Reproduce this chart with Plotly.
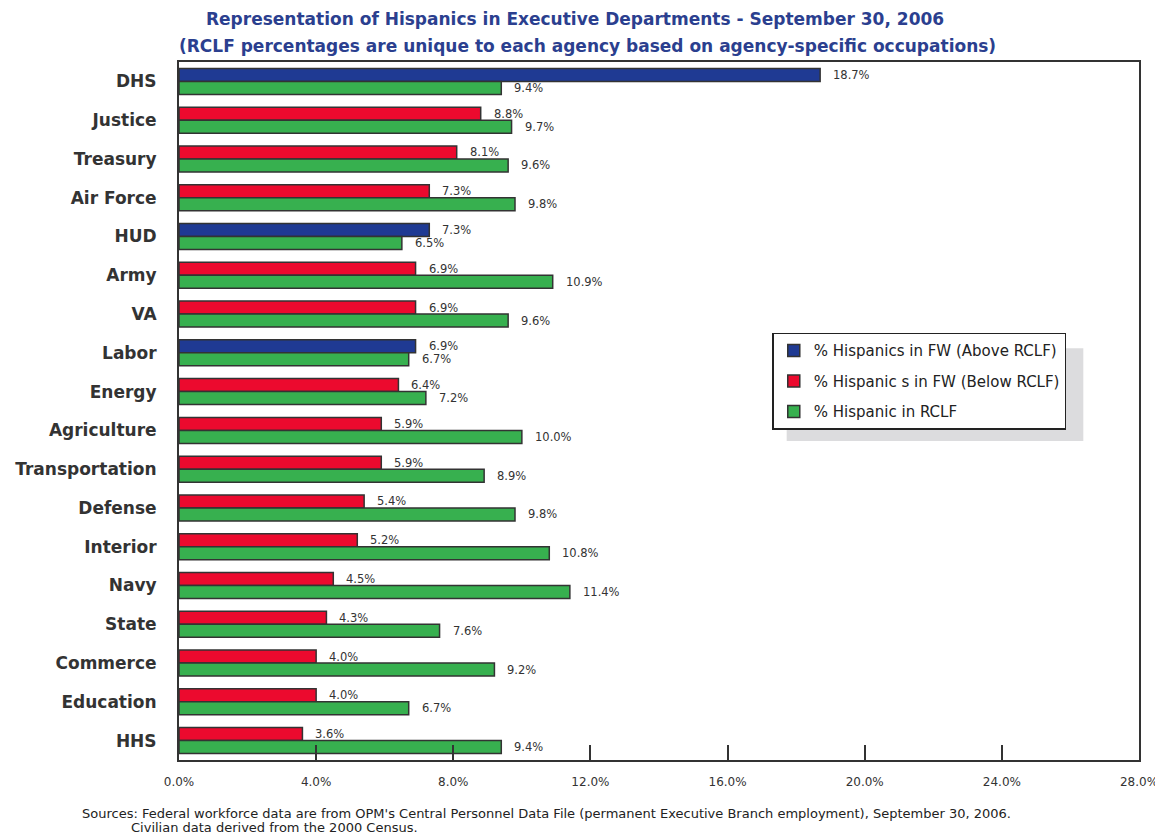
import plotly.graph_objects as go

# ---------------------------- data ----------------------------
agencies = ["DHS", "Justice", "Treasury", "Air Force", "HUD", "Army", "VA", "Labor",
            "Energy", "Agriculture", "Transportation", "Defense", "Interior", "Navy",
            "State", "Commerce", "Education", "HHS"]
fw_pct   = [18.7, 8.8, 8.1, 7.3, 7.3, 6.9, 6.9, 6.9, 6.4, 5.9, 5.9, 5.4, 5.2, 4.5,
            4.3, 4.0, 4.0, 3.6]
rclf_pct = [9.4, 9.7, 9.6, 9.8, 6.5, 10.9, 9.6, 6.7, 7.2, 10.0, 8.9, 9.8, 10.8, 11.4,
            7.6, 9.2, 6.7, 9.4]
above_rclf = ["DHS", "HUD", "Labor"]   # agencies drawn in blue

x_ticks = [0, 4, 8, 12, 16, 20, 24, 28]

BLUE  = "#1f3a93"
RED   = "#ec0a2e"
GREEN = "#37b04f"
EDGE  = "#333333"
TITLE = "#2b3f8f"
FONT  = "DejaVu Sans, Liberation Sans, Arial"

# split the federal-workforce series into above / below RCLF
above_y = [a for a in agencies if a in above_rclf]
above_x = [v for a, v in zip(agencies, fw_pct) if a in above_rclf]
below_y = [a for a in agencies if a not in above_rclf]
below_x = [v for a, v in zip(agencies, fw_pct) if a not in above_rclf]

fig = go.Figure()
bar_line = dict(color=EDGE, width=1.5)
fig.add_trace(go.Bar(x=above_x, y=above_y, orientation="h", offsetgroup="fw",
                     name="% Hispanics in FW (Above RCLF)", legendgroup="a",
                     marker=dict(color=BLUE, line=bar_line)))
fig.add_trace(go.Bar(x=below_x, y=below_y, orientation="h", offsetgroup="fw",
                     name="% Hispanic s in FW (Below RCLF)", legendgroup="b",
                     marker=dict(color=RED, line=bar_line)))
fig.add_trace(go.Bar(x=rclf_pct, y=agencies, orientation="h", offsetgroup="rclf",
                     name="% Hispanic in RCLF", legendgroup="c",
                     marker=dict(color=GREEN, line=bar_line)))

# value labels, a little right of each bar end
lab_font = dict(family=FONT, size=11.5, color="#333333")
annos = []
for a, f, r in zip(agencies, fw_pct, rclf_pct):
    annos.append(dict(x=f, y=a, text=f"{f:.1f}%", showarrow=False, xanchor="left",
                      xshift=11, yshift=6.5, font=lab_font))
    annos.append(dict(x=r, y=a, text=f"{r:.1f}%", showarrow=False, xanchor="left",
                      xshift=11, yshift=-6.5, font=lab_font))

# two-line title
title_font = dict(family=FONT, size=17, color=TITLE, weight="bold")
annos.append(dict(xref="paper", yref="paper", x=0.4125, y=1.061, xanchor="center",
                  yanchor="middle", showarrow=False, font=title_font,
                  text="Representation of Hispanics in Executive Departments - September 30, 2006"))
annos.append(dict(xref="paper", yref="paper", x=0.425, y=1.023, xanchor="center",
                  yanchor="middle", showarrow=False, font=title_font,
                  text="(RCLF percentages are unique to each agency based on agency-specific occupations)"))

# footer source note
foot_font = dict(family=FONT, size=13, color="#222222")
annos.append(dict(xref="paper", yref="paper", x=-0.103, y=-0.077, xanchor="left",
                  yanchor="middle", showarrow=False, font=foot_font,
                  text="Sources: Federal workforce data are from OPM's Central Personnel Data File "
                       "(permanent Executive Branch employment), September 30, 2006."))
annos.append(dict(xref="paper", yref="paper", x=-0.052, y=-0.096, xanchor="left",
                  yanchor="middle", showarrow=False, font=foot_font,
                  text="Civilian data derived from the 2000 Census."))

# the page body adds an 8px margin, so margins are shifted by that amount
fig.update_layout(
    width=1155, height=829,
    paper_bgcolor="white", plot_bgcolor="white",
    barmode="group", bargap=0.33, bargroupgap=0,
    margin=dict(l=171, r=24, t=54, b=77),
    legend=dict(x=0.618, y=0.612, xanchor="left", yanchor="top",
                bgcolor="white", bordercolor="#222222", borderwidth=1.5,
                tracegroupgap=8, itemwidth=30,
                font=dict(family=FONT, size=15, color="#222222")),
    annotations=annos,
    shapes=[dict(type="rect", xref="paper", yref="paper", layer="above",
                 x0=0.633, x1=0.942, y0=0.457, y1=0.590,
                 fillcolor="#dcdcde", line=dict(width=0))],
    showlegend=True,
)
fig.update_xaxes(range=[0, 28], tickvals=x_ticks, ticktext=[f"{t:.1f}%" for t in x_ticks],
                 ticks="inside", ticklen=15, tickcolor=EDGE, tickwidth=1.5,
                 showline=True, mirror=True, linecolor=EDGE, linewidth=2,
                 showgrid=False, zeroline=False, ticklabelstandoff=10, automargin=False,
                 tickfont=dict(family=FONT, size=12, color="#333333"))
fig.update_yaxes(categoryorder="array", categoryarray=agencies, autorange="reversed",
                 showline=True, mirror=True, linecolor=EDGE, linewidth=2,
                 showgrid=False, ticks="", ticklabelstandoff=17, automargin=False,
                 tickfont=dict(family=FONT, size=17, color="#333333", weight="bold"))

fig.write_html("out.html")
